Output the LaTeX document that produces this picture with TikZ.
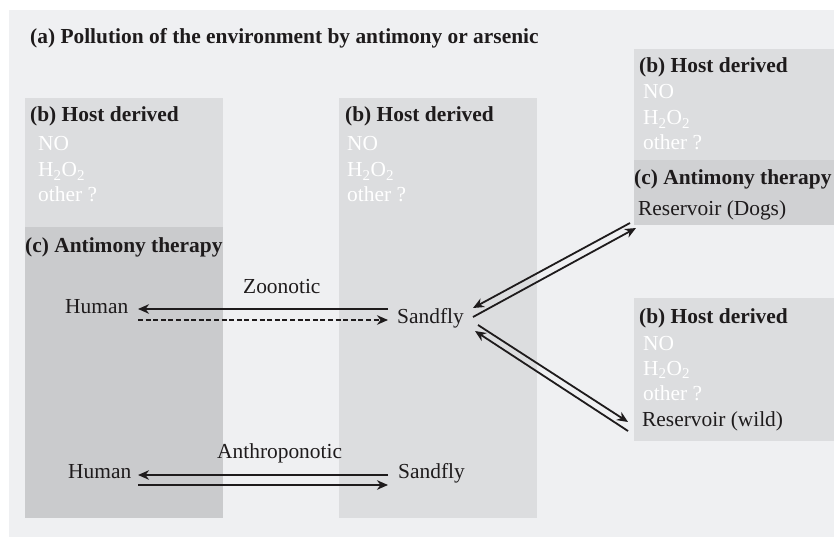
\documentclass[tikz,border=0pt]{standalone}
\usepackage{fontspec}
\setmainfont{Liberation Serif}
\usetikzlibrary{arrows.meta}
\definecolor{bgc}{HTML}{EFF0F2}
\definecolor{hostc}{HTML}{DCDDDF}
\definecolor{therc}{HTML}{CACBCD}
\definecolor{ther2c}{HTML}{D0D1D3}
\definecolor{inkc}{HTML}{1E1B1C}
\begin{document}
\begin{tikzpicture}[x=1pt,y=-1pt,
  txt/.style={anchor=base west, inner sep=0pt, font=\fontsize{21.4}{25}\selectfont, text=inkc},
  hdr/.style={txt, font=\fontsize{21.4}{25}\selectfont\bfseries},
  wtxt/.style={txt, text=white},
  arr/.style={line width=1.8pt, draw=inkc, -{Stealth[length=11pt,width=9.5pt,inset=3.5pt]}},
  darr/.style={arr, dash pattern=on 5pt off 2.6pt}]
\useasboundingbox (0,0) rectangle (834,537);
% background and boxes
\fill[bgc] (9,10) rectangle (834,537);
\fill[hostc] (25,98) rectangle (223,227);
\fill[therc] (25,227) rectangle (223,518);
\fill[hostc] (339,98) rectangle (537,518);
\fill[hostc] (634,49) rectangle (834,160);
\fill[ther2c] (634,160) rectangle (834,225);
\fill[hostc] (634,298) rectangle (834,441);
% title
\node[hdr] (title) at (30,44) {(a) Pollution of the environment by antimony or arsenic};
% left column
\node[hdr] (b1h) at (30,122) {(b) Host derived};
\node[wtxt] (b1no) at (38,151) {NO};
\node[wtxt] (b1hh) at (38,177) {H\textsubscript{2}O\textsubscript{2}};
\node[wtxt] (b1ot) at (38,202) {other ?};
\node[hdr] (c1h) at (25,252) {(c) Antimony therapy};
% middle column
\node[hdr] (b2h) at (345,122) {(b) Host derived};
\node[wtxt] (b2no) at (347,151) {NO};
\node[wtxt] (b2hh) at (347,177) {H\textsubscript{2}O\textsubscript{2}};
\node[wtxt] (b2ot) at (347,202) {other ?};
% right top
\node[hdr] (b3h) at (639,73) {(b) Host derived};
\node[wtxt] (b3no) at (643,99) {NO};
\node[wtxt] (b3hh) at (643,125) {H\textsubscript{2}O\textsubscript{2}};
\node[wtxt] (b3ot) at (643,150) {other ?};
\node[hdr] (c3h) at (634,185) {(c) Antimony therapy};
\node[txt] (dogs) at (638,215) {Reservoir (Dogs)};
% right bottom
\node[hdr] (b4h) at (639,323) {(b) Host derived};
\node[wtxt] (b4no) at (643,350) {NO};
\node[wtxt] (b4hh) at (643,375) {H\textsubscript{2}O\textsubscript{2}};
\node[wtxt] (b4ot) at (643,400) {other ?};
\node[txt] (wild) at (642,426) {Reservoir (wild)};
% hosts and vectors
\node[txt] (human1) at (65,313) {Human};
\node[txt] (sand1) at (397,323) {Sandfly};
\node[txt] (zoo) at (243,293) {Zoonotic};
\node[txt] (human2) at (68,478) {Human};
\node[txt] (sand2) at (398,478) {Sandfly};
\node[txt] (anthro) at (217,458) {Anthroponotic};
% connector end points
\coordinate (h1a) at (138,309); \coordinate (s1a) at (388,309);
\coordinate (h1b) at (138,320); \coordinate (s1b) at (388,320);
\coordinate (h2a) at (138,475); \coordinate (s2a) at (388,475);
\coordinate (h2b) at (138,485); \coordinate (s2b) at (388,485);
\coordinate (sdA) at (473,308); \coordinate (dgA) at (630,223);
\coordinate (sdB) at (473,317); \coordinate (dgB) at (636,228);
\coordinate (swA) at (478,325); \coordinate (wdA) at (628,422);
\coordinate (swB) at (475,331); \coordinate (wdB) at (628,431);
% connectors
\draw[arr] (s1a) -- (h1a);
\draw[darr] (h1b) -- (s1b);
\draw[arr] (s2a) -- (h2a);
\draw[arr] (h2b) -- (s2b);
\draw[arr] (dgA) -- (sdA);
\draw[arr] (sdB) -- (dgB);
\draw[arr] (swA) -- (wdA);
\draw[arr] (wdB) -- (swB);
\end{tikzpicture}
\end{document}
